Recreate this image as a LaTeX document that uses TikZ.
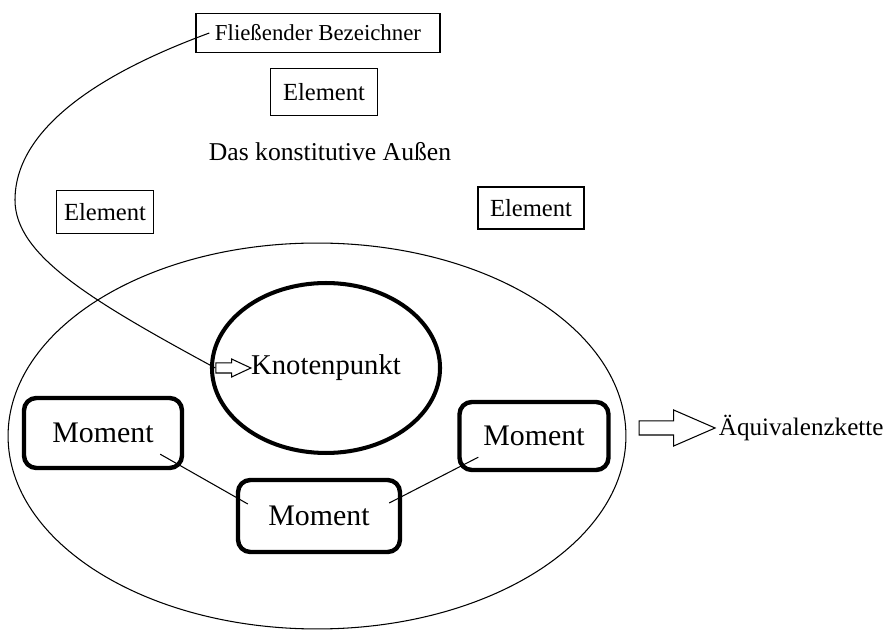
\documentclass[tikz,border=0pt]{standalone}
\usepackage{fontspec}
\setmainfont{Liberation Serif}
\usetikzlibrary{shapes.geometric,shapes.arrows}

\begin{document}
\begin{tikzpicture}[
    x=0.02cm,
    y=-0.02cm,
    line width=0.6pt,
    every node/.style={align=center},
    kasten/.style={
        rectangle,
        draw=black,
        line width=0.8pt,
        inner sep=2pt,
        font=\fontsize{14}{16}\selectfont
    },
    moment/.style={
        rectangle,
        rounded corners=7pt,
        draw=black,
        line width=2.5pt,
        font=\fontsize{17}{20}\selectfont
    },
    hohlpfeil/.style={
        single arrow,
        draw=black,
        line width=0.6pt,
        inner xsep=0pt
    },
]
\useasboundingbox (0,0) rectangle (890,631);

\node[ellipse, draw=black, line width=0.6pt, minimum width=12.36cm, minimum height=7.72cm] (bereich) at (317,436) {};

\node[kasten, font=\fontsize{13}{15}\selectfont, minimum width=4.88cm, minimum height=0.78cm] (fb) at (318,33) {Fließender Bezeichner};
\node[kasten, minimum width=2.14cm, minimum height=0.94cm] (eT) at (324,92) {Element};
\node[font=\fontsize{14.6}{17}\selectfont] (dka) at (330,152) {Das konstitutive Außen};
\node[kasten, minimum width=1.94cm, minimum height=0.86cm] (eL) at (105,212) {Element};
\node[kasten, minimum width=2.12cm, minimum height=0.84cm] (eR) at (531,208) {Element};

\node[ellipse, draw=black, line width=2.3pt, minimum width=4.56cm, minimum height=3.4cm, font=\fontsize{16.3}{19}\selectfont] (knoten) at (326,368) {Knotenpunkt};
\node[hohlpfeil, inner ysep=0.09cm, single arrow head extend=0.08cm, single arrow tip angle=50, minimum height=0.7cm] (pfK) at (228,368) {};

\node[moment, minimum width=3.16cm, minimum height=1.4cm] (mL) at (103,433) {Moment};
\node[moment, minimum width=3.24cm, minimum height=1.44cm] (mM) at (319,516) {Moment};
\node[moment, minimum width=2.98cm, minimum height=1.36cm] (mR) at (534,436) {Moment};

\draw ([xshift=-0.48cm, yshift=0.32cm]mL.south east) -- ([xshift=0.24cm, yshift=0.24cm]mM.west);
\draw ([xshift=-0.26cm, yshift=0.26cm]mM.east) -- ([xshift=0.42cm, yshift=0.3cm]mR.south west);

\node[hohlpfeil, inner ysep=0.13cm, single arrow head extend=0.22cm, single arrow tip angle=47, minimum height=1.52cm] (pfA) at (669,428) {};
\node[anchor=west, inner sep=0pt, font=\fontsize{14.3}{17}\selectfont] (aq) at ([xshift=0.04cm]pfA.tip) {Äquivalenzkette};

\draw ([xshift=0.28cm]fb.west) .. controls (150,55) and (15,110) .. (15,200) .. controls (15,255) and (90,300) .. (pfK.west);

\end{tikzpicture}
\end{document}
